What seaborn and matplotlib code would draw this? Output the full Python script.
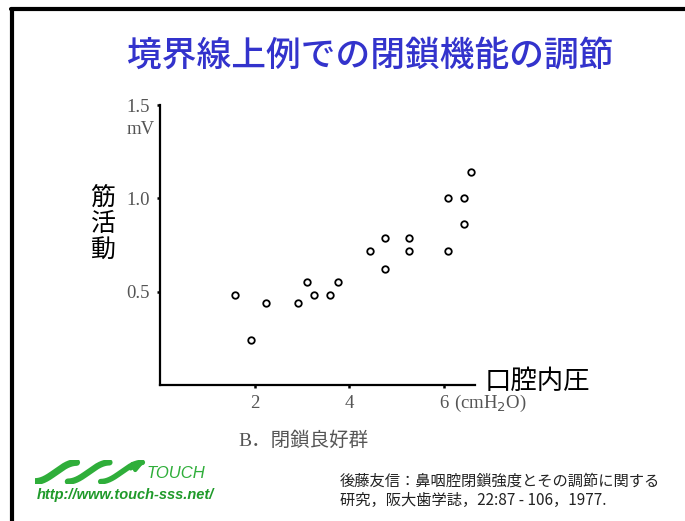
import numpy as np
import pandas as pd
import matplotlib
matplotlib.use("Agg")
import matplotlib.pyplot as plt
import seaborn as sns
from matplotlib.lines import Line2D

# Data (口腔内圧 cmH2O vs 筋活動 mV)
pressure = [1.58, 1.93, 2.24, 2.92, 3.10, 3.26, 3.59, 3.76, 4.43,
            4.76, 4.76, 5.25, 5.25, 6.08, 6.08, 6.41, 6.41, 6.57]
activity = [0.48, 0.24, 0.44, 0.44, 0.55, 0.48, 0.48, 0.55, 0.72,
            0.79, 0.62, 0.79, 0.72, 1.00, 0.72, 1.00, 0.86, 1.14]
x_ticks = [2, 4, 6]
y_ticks = [0.5, 1.0, 1.5]
y_tick_labels = ["0.5", "1.0", "1.5"]

title = "境界線上例での閉鎖機能の調節"
x_label = "口腔内圧"
y_label = "筋\n活\n動"
group_label = "B．閉鎖良好群"
citation = ["後藤友信：鼻咽腔閉鎖強度とその調節に関する", "研究，阪大歯学誌，22:87 - 106，1977."]
url = "http://www.touch-sss.net/"

df = pd.DataFrame({"pressure": pressure, "activity": activity})

sns.set_theme(style="white")
plt.rcParams["font.family"] = ["Noto Sans CJK JP", "DejaVu Sans"]

W, H = 685, 521
fig = plt.figure(figsize=(W / 100, H / 100), dpi=100)
fig.patch.set_facecolor("white")

def fx(px):
    return px / W

def fy(py):
    return 1 - py / H

# main scatter axes
ax = fig.add_axes([fx(160), fy(385), fx(315), (385 - 105) / H])
sns.scatterplot(data=df, x="pressure", y="activity", ax=ax, marker="o",
                s=22, facecolor="white", edgecolor="black", linewidth=1.3,
                legend=False, zorder=3)
ax.set_xlim(0, 6.65)
ax.set_ylim(0, 1.5)
ax.set_facecolor("white")
for side in ["top", "right"]:
    ax.spines[side].set_visible(False)
for side in ["left", "bottom"]:
    ax.spines[side].set_color("black")
    ax.spines[side].set_linewidth(1.6)
ax.set_xlabel("")
ax.set_ylabel("")

serif = ["Liberation Serif", "DejaVu Serif"]
ax.set_xticks(x_ticks)
ax.set_xticklabels([str(t) for t in x_ticks], family=serif, fontsize=13.5, color="#555555")
ax.set_yticks(y_ticks)
ax.set_yticklabels(y_tick_labels, family=serif, fontsize=13.5, color="#555555")
ax.tick_params(axis="both", direction="out", length=2.5, width=1.8, color="black", pad=5,
               bottom=True, left=True)

ax.text(-0.12, 1.37, "mV", ha="right", va="center", family=serif, fontsize=13.5,
        color="#555555", transform=ax.transData, clip_on=False)
ax.text(6.3, -0.0, "(cmH$_2$O)", ha="left", va="top", family=serif, fontsize=13.5,
        color="#555555", transform=ax.get_xaxis_transform(), clip_on=False)

# line the (cmH2O) text up with the tick labels
fig.canvas.draw()
lbl = ax.get_xticklabels()[-1]
bb = lbl.get_window_extent()
for t in ax.texts:
    if "cmH" in t.get_text():
        t.set_transform(fig.transFigure)
        t.set_position((ax.transData.transform((6.2, 0))[0] / W, bb.y0 / H + bb.height / H / 2))
        t.set_va("center")

# axis titles in large sans
fig.text(fx(485), fy(381), x_label, ha="left", va="center", fontsize=19, color="black")
fig.text(fx(103), fy(224), y_label, ha="center", va="center", fontsize=18,
         color="black", linespacing=1.0)

fig.text(fx(238), fy(441), group_label, ha="left", va="center", fontsize=14,
         color="#555555", family=["Liberation Serif", "Noto Sans CJK JP"])

# title
fig.text(fx(370), fy(56), title, ha="center", va="center", fontsize=25,
         color="#3333cc", weight="medium")

# slide border
fig.add_artist(Line2D([fx(12), fx(12)], [0, fy(9)], color="black", linewidth=3,
                      transform=fig.transFigure))
fig.add_artist(Line2D([fx(11), 1], [fy(9), fy(9)], color="black", linewidth=3,
                      transform=fig.transFigure))

# logo
logo = fig.add_axes([fx(35), fy(484), fx(115), 24 / H])
t = np.linspace(0, 1, 200)
for k in range(3):
    xs = k * 0.3 + t * 0.38
    ys = 0.5 + 0.4 * np.sin(np.pi * (t * 1.0 - 0.5))
    logo.plot(xs, ys, color="#2fae3a", linewidth=5 - k * 0.5, solid_capstyle="round")
logo.annotate("", xy=(1.02, 0.95), xytext=(0.85, 0.6),
              arrowprops=dict(arrowstyle="-|>", color="#2fae3a", lw=3))
logo.set_xlim(0, 1.05)
logo.set_ylim(0, 1)
logo.axis("off")
fig.text(fx(146), fy(474), "TOUCH", ha="left", va="center", fontsize=12,
         style="italic", color="#2fae3a", family=["Liberation Sans"])
fig.text(fx(37), fy(495), url, ha="left", va="center", fontsize=10.5,
         style="italic", weight="bold", color="#1f9a2a", family=["Liberation Sans"])

fig.text(fx(340), fy(481), citation[0], ha="left", va="center", fontsize=11, color="#222222")
fig.text(fx(340), fy(500), citation[1], ha="left", va="center", fontsize=11, color="#222222")

fig.savefig("out.png", dpi=100, facecolor="white")
